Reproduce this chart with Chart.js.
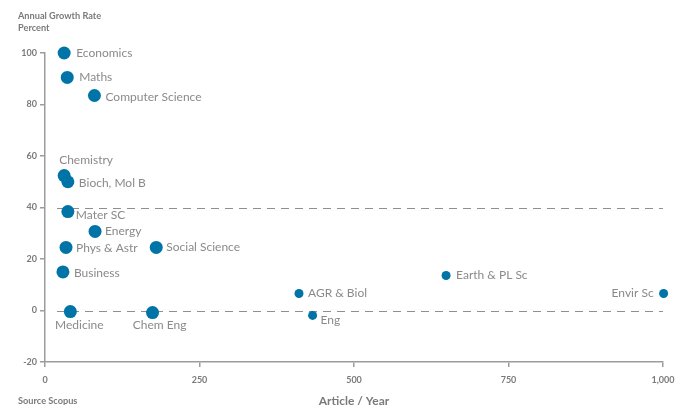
<!DOCTYPE html>
<html>
<head>
<meta charset="utf-8">
<script src="https://cdn.jsdelivr.net/npm/chart.js@4"></script>
<style>
  html, body { margin: 0; padding: 0; background: #fff; }
  #wrap { width: 675px; height: 405px; position: relative; }
</style>
</head>
<body>
<div id="wrap"><canvas id="chart" width="675" height="405"></canvas></div>
<script>
// --- DATA ---
const subjects = ['Economics', 'Maths', 'Computer Science', 'Chemistry', 'Bioch, Mol B', 'Mater SC',
  'Energy', 'Phys & Astr', 'Social Science', 'Business', 'Medicine', 'Chem Eng',
  'AGR & Biol', 'Eng', 'Earth & PL Sc', 'Envir Sc'];
const articlesPerYear = [31, 36, 80, 31, 37, 37, 81, 34, 180, 29, 41, 174, 411, 433, 649, 1001];
const growthRate = [100, 90.5, 83.5, 52.4, 50, 38.4, 30.7, 24.5, 24.5, 15, -0.4, -0.8, 6.6, -1.9, 13.6, 6.6];
const xTicks = [0, 250, 500, 750, 1000];
const yTicks = [-20, 0, 20, 40, 60, 80, 100];
const refLines = [40, 0];

// --- STYLE (label placement + dot sizes per point) ---
const dotRadius = [6.5, 6.5, 6.5, 6.5, 6.5, 6.5, 6.5, 6.5, 6.5, 6.5, 6.5, 6.5, 4.5, 4.5, 4.5, 4.5];
const labelPlace = [
  [12, 0, 'left'], [12, 0, 'left'], [11, 2, 'left'], [-5, -15, 'left'],
  [11, 1, 'left'], [8, 4, 'left'], [10, 0, 'left'], [10, 1, 'left'],
  [10, 0, 'left'], [11, 1, 'left'], [9, 14, 'center'], [7, 13, 'center'],
  [9, 0, 'left'], [8, 5, 'left'], [10, 0, 'left'], [-10, 0, 'right']
];

const BLUE = '#0074a6';
const GREY = '#8a8a8a';
const AXIS = '#9c9c9c';
const FONT = 'Lato, "Open Sans", sans-serif';

// Draws the point labels, dashed reference lines and the corner titles
const decorPlugin = {
  id: 'decor',
  beforeDatasetsDraw(chart) {
    const ctx = chart.ctx;
    const x = chart.scales.x, y = chart.scales.y;
    ctx.save();
    ctx.strokeStyle = '#8f8f8f';
    ctx.lineWidth = 1;
    ctx.setLineDash([8, 6]);
    refLines.forEach(v => {
      const py = Math.round(y.getPixelForValue(v)) + 0.5;
      ctx.beginPath();
      ctx.moveTo(x.left + 12, py);
      ctx.lineTo(x.right, py);
      ctx.stroke();
    });
    ctx.restore();
  },
  afterDatasetsDraw(chart) {
    const ctx = chart.ctx;
    const meta = chart.getDatasetMeta(0);
    ctx.save();
    ctx.font = '12px ' + FONT;
    ctx.fillStyle = GREY;
    ctx.textBaseline = 'middle';
    meta.data.forEach((pt, i) => {
      const [dx, dy, align] = labelPlace[i];
      ctx.textAlign = align;
      ctx.fillText(subjects[i], pt.x + dx, pt.y + dy);
    });
    // titles
    ctx.fillStyle = '#7a7a7a';
    ctx.font = 'bold 9.2px ' + FONT;
    ctx.textAlign = 'left';
    ctx.fillText('Annual Growth Rate', 18, 16);
    ctx.fillText('Percent', 18, 28);
    ctx.fillText('Source Scopus', 18, 401);
    ctx.font = 'bold 12px ' + FONT;
    ctx.textAlign = 'center';
    ctx.fillText('Article / Year', 354, 401);
    ctx.restore();
  }
};

new Chart(document.getElementById('chart').getContext('2d'), {
  type: 'scatter',
  data: {
    datasets: [{
      data: articlesPerYear.map((v, i) => ({ x: v, y: growthRate[i] })),
      backgroundColor: BLUE,
      borderWidth: 0,
      pointRadius: dotRadius,
      pointHoverRadius: dotRadius,
      clip: false
    }]
  },
  options: {
    responsive: false,
    animation: false,
    layout: { padding: { left: 0, right: 12, top: 53, bottom: 0 } },
    plugins: { legend: { display: false }, tooltip: { enabled: false } },
    scales: {
      x: {
        type: 'linear', min: 0, max: 1000,
        afterBuildTicks: s => { s.ticks = xTicks.map(v => ({ value: v })); },
        afterFit: s => { s.height = 43; s.paddingLeft = 0; s.paddingRight = 0; },
        border: { color: AXIS, width: 1.5 },
        grid: { drawOnChartArea: false, color: AXIS, tickLength: 5, lineWidth: 1.5 },
        ticks: {
          color: '#7a7a7a', font: { family: FONT, size: 9, weight: 'bold' }, padding: 8,
          callback: v => v.toLocaleString('en-US')
        }
      },
      y: {
        type: 'linear', min: -20, max: 100,
        afterBuildTicks: s => { s.ticks = yTicks.map(v => ({ value: v })); },
        afterFit: s => { s.width = 45; s.paddingTop = 0; s.paddingBottom = 0; },
        border: { color: AXIS, width: 1.5 },
        grid: { drawOnChartArea: false, color: AXIS, tickLength: 5, lineWidth: 1.5 },
        ticks: { color: '#7a7a7a', font: { family: FONT, size: 9, weight: 'bold' }, padding: 3 }
      }
    }
  },
  plugins: [decorPlugin]
});
</script>
</body>
</html>
